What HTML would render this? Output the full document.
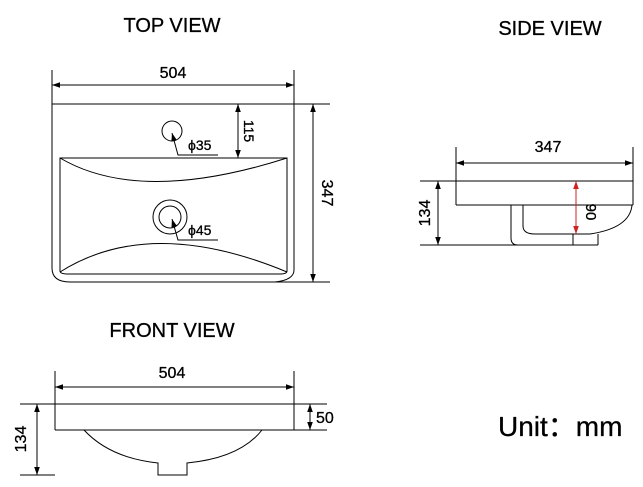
<!DOCTYPE html>
<html><head><style>body{margin:0;background:#fff}svg{display:block}</style></head><body>
<svg width="643" height="487" viewBox="0 0 643 487" xmlns="http://www.w3.org/2000/svg" font-family="Liberation Sans, Arial, sans-serif">
<defs>
<marker id="a" viewBox="0 0 10 10" refX="10" refY="5" markerWidth="8" markerHeight="8" orient="auto-start-reverse"><path d="M0,1.5 L10,5 L0,8.5z" fill="#000"/></marker>
<marker id="r" viewBox="0 0 10 10" refX="10" refY="5" markerWidth="8" markerHeight="8" orient="auto-start-reverse"><path d="M0,1.5 L10,5 L0,8.5z" fill="#d02020"/></marker>
</defs>
<g stroke="#000" stroke-width="1" fill="none">
<line x1="52" y1="70" x2="52" y2="268"/>
<line x1="294" y1="70" x2="294" y2="270"/>
<path d="M52,268 Q52,282 70,282 L330,282"/>
<path d="M294,270 Q294,280 275,282"/>
<line x1="52" y1="104" x2="330" y2="104"/>
<line x1="52" y1="85" x2="294" y2="85" marker-start="url(#a)" marker-end="url(#a)"/>
<path d="M60,158 L287,158 L287,271 Q287,274 280,274 L68,274 Q60,274 60,271 Z"/>
<path d="M60,158 Q140,205 287,158"/>
<path d="M60,272 Q150,215 287,272"/>
<circle cx="172" cy="131" r="10"/>
<circle cx="170" cy="217" r="17"/>
<circle cx="170" cy="217" r="11"/>
<polyline points="172,133 178,155 218,155" marker-start="url(#a)"/>
<polyline points="172,219 178,240 218,240" marker-start="url(#a)"/>
<line x1="238" y1="104" x2="238" y2="158" marker-start="url(#a)" marker-end="url(#a)"/>
<line x1="313" y1="104" x2="313" y2="282" marker-start="url(#a)" marker-end="url(#a)"/>
<line x1="456" y1="147" x2="456" y2="205"/>
<line x1="633" y1="147" x2="633" y2="205"/>
<line x1="456" y1="163" x2="633" y2="163" marker-start="url(#a)" marker-end="url(#a)"/>
<line x1="420" y1="181" x2="633" y2="181"/>
<line x1="456" y1="205" x2="633" y2="205"/>
<path d="M511,205 L511,238 Q511,245 518,245"/>
<path d="M523,205 L523,226 Q523,234 535,234 L590,234 Q630,228 632,205"/>
<path d="M573,234 L573,245 M598,234 L598,245"/>
<line x1="420" y1="245" x2="598" y2="245"/>
<line x1="438" y1="181" x2="438" y2="245" marker-start="url(#a)" marker-end="url(#a)"/>
<line x1="576" y1="181" x2="576" y2="234" stroke="#d02020" marker-start="url(#r)" marker-end="url(#r)"/>
<line x1="55" y1="371" x2="55" y2="430"/>
<line x1="294" y1="371" x2="294" y2="430"/>
<line x1="55" y1="387" x2="294" y2="387" marker-start="url(#a)" marker-end="url(#a)"/>
<line x1="20" y1="404" x2="327" y2="404"/>
<line x1="55" y1="430" x2="327" y2="430"/>
<path d="M84,430 Q110,458 158,463 L158,475 L187,475 L187,463 Q240,458 262,430"/>
<line x1="20" y1="475" x2="55" y2="475"/>
<line x1="37" y1="404" x2="37" y2="475" marker-start="url(#a)" marker-end="url(#a)"/>
<line x1="310" y1="404" x2="310" y2="430" marker-start="url(#a)" marker-end="url(#a)"/>
</g>
<g fill="#000" stroke="#000" stroke-width="0.3">
<text x="172" y="32" font-size="20" text-anchor="middle">TOP VIEW</text>
<text x="550" y="35" font-size="20" text-anchor="middle">SIDE VIEW</text>
<text x="172" y="337" font-size="20" text-anchor="middle">FRONT VIEW</text>
<text x="173" y="78" font-size="16" text-anchor="middle">504</text>
<text x="188" y="150" font-size="14">ϕ35</text>
<text x="188" y="235" font-size="14">ϕ45</text>
<text transform="translate(244,131) rotate(90)" font-size="14" text-anchor="middle">115</text>
<text transform="translate(322,193) rotate(90)" font-size="16" text-anchor="middle">347</text>
<text x="548" y="152" font-size="16" text-anchor="middle">347</text>
<text transform="translate(430,213) rotate(-90)" font-size="16" text-anchor="middle">134</text>
<text transform="translate(586,212) rotate(90)" font-size="15" text-anchor="middle">90</text>
<text x="172" y="378" font-size="16" text-anchor="middle">504</text>
<text x="316" y="423" font-size="16">50</text>
<text transform="translate(26,439) rotate(-90)" font-size="16" text-anchor="middle">134</text>
<text x="498" y="436" font-size="28">Unit：mm</text>
</g>
</svg>
</body></html>
